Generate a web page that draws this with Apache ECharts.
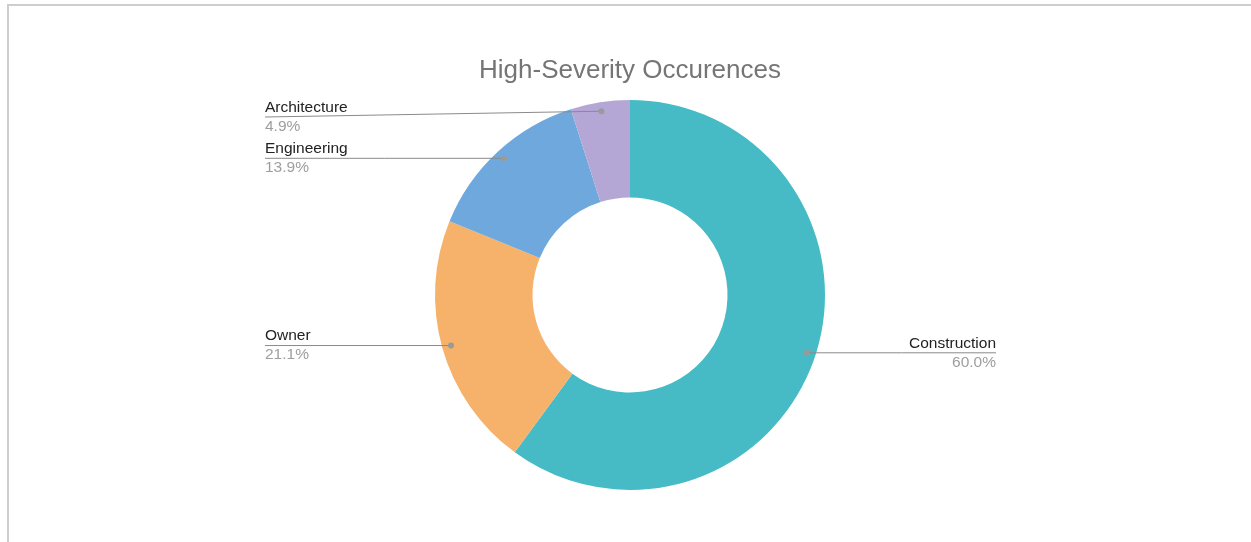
<!DOCTYPE html>
<html>
<head>
<meta charset="utf-8">
<script src="https://cdn.jsdelivr.net/npm/echarts@6/dist/echarts.min.js"></script>
<style>
  html, body { margin: 0; padding: 0; background: #ffffff; }
  #wrap { position: relative; width: 1251px; height: 542px; overflow: hidden; }
  #chart { position: absolute; left: 0; top: 0; width: 1251px; height: 542px; }
  #frame { position: absolute; left: 7px; top: 4px; width: 1300px; height: 600px;
           border-top: 2px solid #cbcdd0; border-left: 2px solid #cbcdd0; pointer-events: none; }
</style>
</head>
<body>
<div id="wrap">
  <div id="chart"></div>
  <div id="frame"></div>
</div>
<script>
const titleText = 'High-Severity Occurences';
const categories = ['Construction', 'Owner', 'Engineering', 'Architecture'];
const shares = [60.0, 21.1, 13.9, 4.9];
const sliceColors = ['#46bbc6', '#f6b16b', '#6fa8dc', '#b4a7d6'];

const pieData = categories.map((name, i) => ({ name: name, value: shares[i], itemStyle: { color: sliceColors[i] } }));
const plainData = categories.map((name, i) => ({ name: name, value: shares[i] }));

const chart = echarts.init(document.getElementById('chart'), null, { renderer: 'canvas' });

const FONT = 'Liberation Sans, Arial, sans-serif';
const common = {
  type: 'pie',
  left: 10, right: 0, top: 0, bottom: 0,
  center: [620, 295],
  startAngle: 90,
  clockwise: true,
  silent: true,
  emphasis: { disabled: true }
};

const option = {
  animation: false,
  backgroundColor: 'transparent',
  title: {
    text: titleText,
    left: 479,
    top: 58,
    padding: 0,
    textStyle: {
      fontFamily: FONT,
      fontSize: 26,
      fontWeight: 'normal',
      color: '#757575'
    }
  },
  series: [
    Object.assign({}, common, {
      radius: [97.5, 195],
      z: 2,
      data: pieData,
      itemStyle: { borderWidth: 0 },
      label: { show: false },
      labelLine: { show: false }
    }),
    Object.assign({}, common, {
      radius: [97.5, 195],
      z: 4,
      data: plainData,
      itemStyle: { color: 'rgba(0,0,0,0)', borderWidth: 0 },
      label: {
        show: true,
        position: 'outer',
        alignTo: 'edge',
        edgeDistance: 255,
        formatter: function (p) { return '{n|' + p.name + '}\n{p|' + p.value.toFixed(1) + '%}'; },
        rich: {
          n: { fontFamily: FONT, fontSize: 15.5, lineHeight: 19, color: '#222222' },
          p: { fontFamily: FONT, fontSize: 15.5, lineHeight: 19, color: '#9e9e9e' }
        }
      },
      labelLine: {
        show: true,
        length: 10,
        length2: 10,
        smooth: false,
        lineStyle: { color: '#8a8a8a', width: 1 }
      },
      labelLayout: function (params) {
        const pts = params.labelLinePoints;
        if (!pts) return {};
        const p0 = pts[0], p1 = pts[1];
        const dx = p1[0] - p0[0], dy = p1[1] - p0[1];
        const len = Math.sqrt(dx * dx + dy * dy) || 1;
        const ux = dx / len, uy = dy / len;
        const dot = [p0[0] - ux * 9, p0[1] - uy * 9];
        const r = params.labelRect;
        const isLeft = (r.x + r.width / 2) < dot[0];
        const ex = isLeft ? r.x : r.x + r.width;
        const ly = Math.max(dot[1], 117);
        return {
          y: ly,
          verticalAlign: 'middle',
          labelLinePoints: [dot, [(dot[0] + ex) / 2, (dot[1] + ly) / 2], [ex, ly]]
        };
      }
    }),
    Object.assign({}, common, {
      radius: [181, 185],
      z: 6,
      data: plainData,
      itemStyle: { color: 'rgba(0,0,0,0)', borderWidth: 0 },
      label: {
        show: true,
        position: 'inside',
        formatter: ' ',
        fontSize: 1,
        lineHeight: 1,
        width: 6,
        height: 6,
        padding: 0,
        align: 'center',
        verticalAlign: 'middle',
        backgroundColor: '#9a9a9a',
        borderRadius: 3,
        color: 'rgba(0,0,0,0)'
      },
      labelLine: { show: false }
    })
  ]
};
chart.setOption(option);
</script>
</body>
</html>
